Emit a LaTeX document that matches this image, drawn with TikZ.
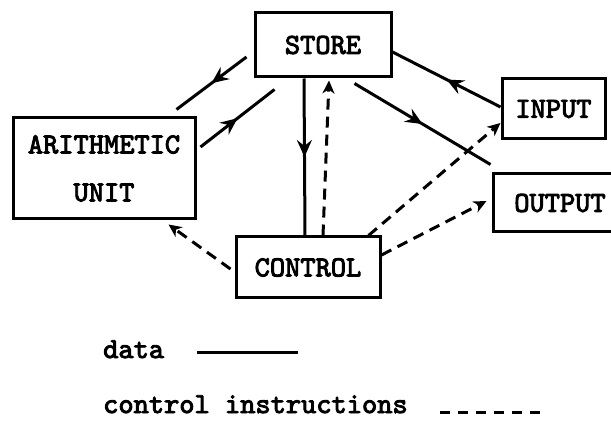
\documentclass[tikz,border=0pt]{standalone}
\usepackage{fontspec}
\newfontfamily\twfont[FakeBold=3.2]{lmmono10-regular.otf}
\usetikzlibrary{arrows.meta,decorations.markings}
\tikzset{
  box/.style={draw, line width=3pt, inner sep=0pt, align=center,
    font=\twfont\fontsize{29}{48}\selectfont},
  dataline/.style={line width=3pt},
  ctrlline/.style={line width=3pt, dash pattern=on 11pt off 7pt},
  midarrow/.style={postaction={decorate}, decoration={markings,
    mark=at position 0.5 with {\arrow{Stealth[length=17pt,width=15pt,inset=6pt]}}}},
  endarrow/.style={-{Stealth[length=13pt,width=12pt,inset=4pt]}},
  legend/.style={inner sep=0pt, font=\twfont\fontsize{29}{34}\selectfont}
}
\begin{document}
\begin{tikzpicture}[x=1pt,y=1pt]
\useasboundingbox (0,0) rectangle (611,421);
\node[box, minimum width=136pt, minimum height=64pt] (store) at (323,376) {STORE};
\node[box, minimum width=103pt, minimum height=60pt] (input) at (553.5,312) {INPUT};
\node[box, minimum width=134pt, minimum height=58pt] (output) at (560,218) {OUTPUT};
\node[box, minimum width=182pt, minimum height=101pt] (arith) at (104,252.5) {ARITHMETIC\\UNIT};
\node[box, minimum width=144pt, minimum height=61pt] (control) at (308,153.5) {CONTROL};
% data connectors
\draw[dataline, midarrow] ([shift={(-7,-12)}]store.west) -- ([shift={(-20,7)}]arith.north east);
\draw[dataline, midarrow] ([shift={(4,21.5)}]arith.east) -- ([shift={(21,-11)}]store.south west);
\draw[dataline, midarrow] ([shift={(-19,0)}]store.south) -- ([shift={(-3,0)}]control.north);
\draw[dataline, midarrow] ([shift={(0,2)}]input.west) -- ([shift={(0,-7)}]store.east);
\draw[dataline, midarrow] ([shift={(-38,-5)}]store.south east) -- ([shift={(-1,8)}]output.north west);
% control connectors
\draw[ctrlline, endarrow] ([shift={(15,0)}]control.north) -- ([shift={(6,-2)}]store.south);
\draw[ctrlline, endarrow] ([shift={(-13,0)}]control.north east) -- ([shift={(0,-14)}]input.west);
\draw[ctrlline, endarrow] ([shift={(0,12.5)}]control.east) -- ([shift={(-5,2)}]output.west);
\draw[ctrlline, endarrow] ([shift={(-4,-1.5)}]control.west) -- ([shift={(-28,-4)}]arith.south east);
% legend
\node[legend, anchor=base west] (ldata) at (103,63) {data};
\node[legend, anchor=base west] (lctrl) at (103,8) {control instructions};
\coordinate (d1) at (197,69);
\coordinate (d2) at (298,69);
\coordinate (c1) at (440,9);
\coordinate (c2) at (542,9);
\draw[dataline] (d1) -- (d2);
\draw[line width=3pt, dash pattern=on 10pt off 8pt] (c1) -- (c2);
\end{tikzpicture}
\end{document}
